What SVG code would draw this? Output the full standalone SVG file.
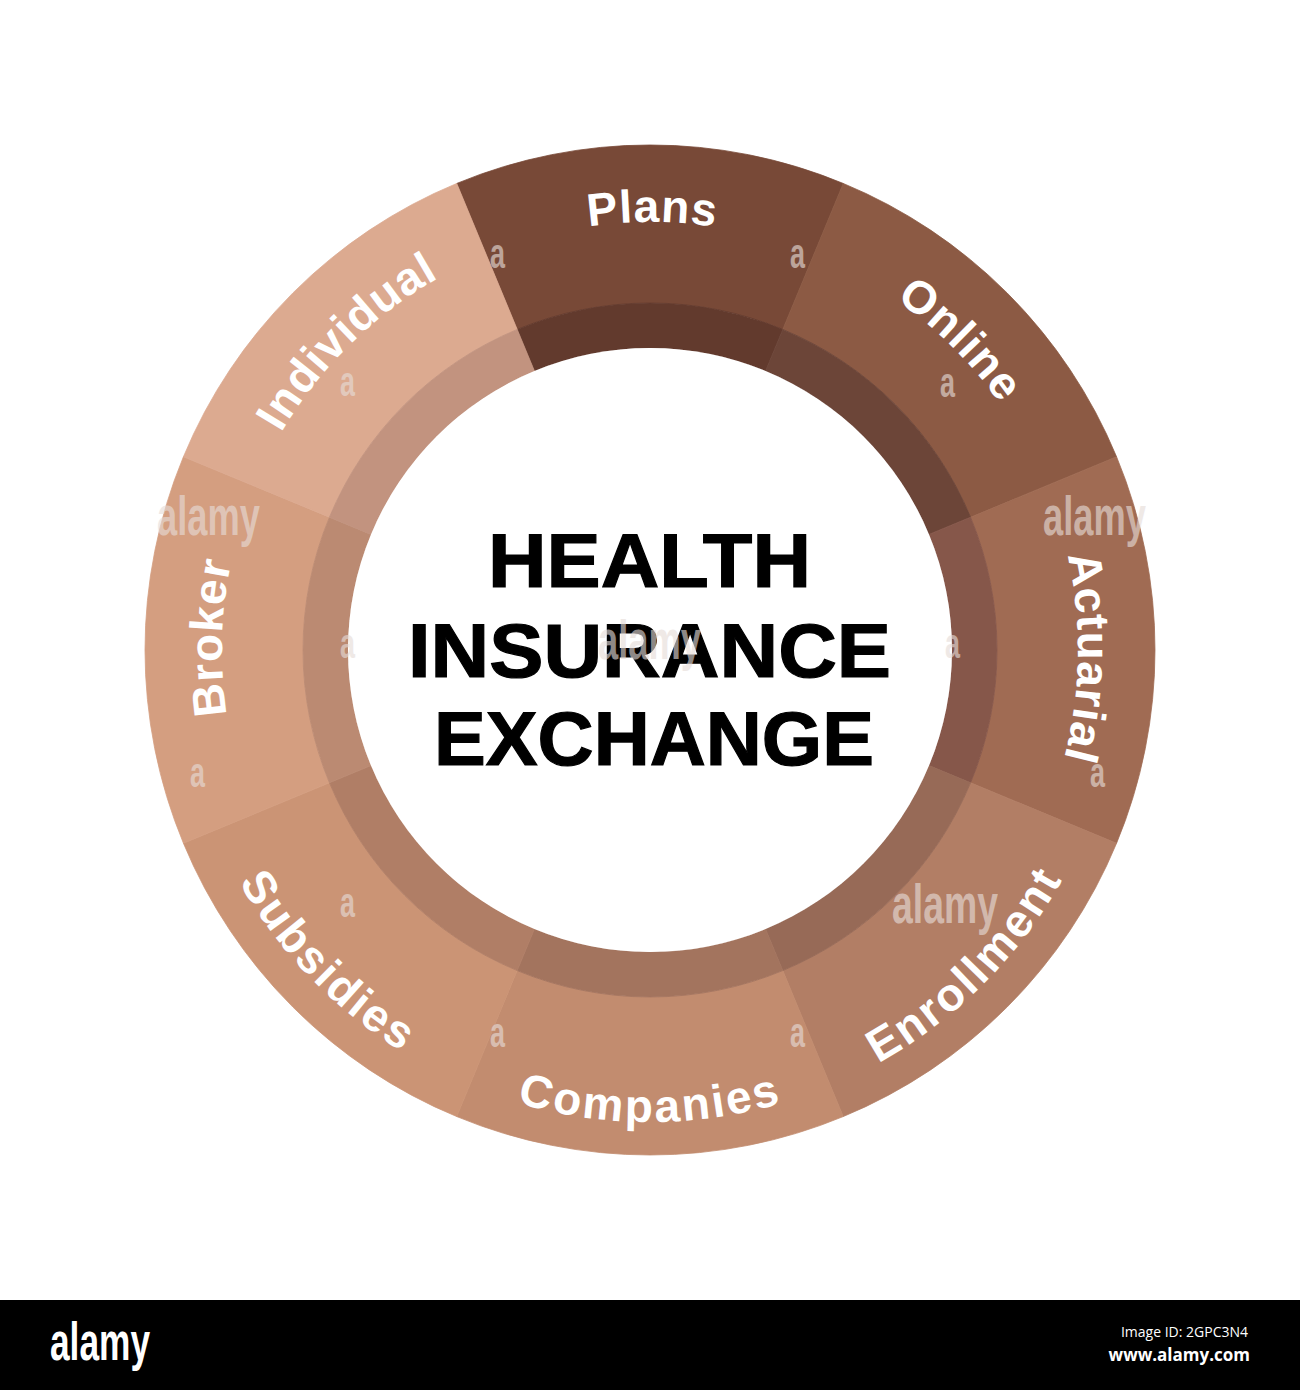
<svg xmlns="http://www.w3.org/2000/svg" xmlns:xlink="http://www.w3.org/1999/xlink" width="1300" height="1390" viewBox="0 0 1300 1390">
<style>
.lbl{font-family:"Liberation Sans",Arial,sans-serif;font-weight:bold;font-size:46px;fill:#ffffff;letter-spacing:1px}
.lbb{letter-spacing:2.5px}
.title{font-family:"Liberation Sans",Arial,sans-serif;font-weight:bold;font-size:76px;fill:#000000;stroke:#000000;stroke-width:1.2px;text-anchor:middle}
.wm{font-family:"Liberation Sans",Arial,sans-serif;font-weight:bold;fill:#e6dcd8;opacity:0.62}
.wa{font-size:42px}
.wb{font-size:56px}
</style>
<defs>
<path id="arcTop" d="M322.133,374.887 A428,428 0 0 1 977.867,374.887"/>
<path id="arcBot" d="M288.427,953.396 A472,472 0 0 0 1011.573,953.396"/>
</defs>
<rect x="0" y="0" width="1300" height="1390" fill="#ffffff"/>

<g id="node-plans">
<path d="M456.745,183.441 A505,505 0 0 1 843.255,183.441 L782.791,329.414 A347,347 0 0 0 517.209,329.414 Z" fill="#784937" stroke="#784937" stroke-width="0.8"/>
<path d="M517.209,329.414 A347,347 0 0 1 782.791,329.414 L765.570,370.988 A302,302 0 0 0 534.430,370.988 Z" fill="#623a2d" stroke="#623a2d" stroke-width="0.8"/>
<text class="lbl"><textPath xlink:href="#arcTop" href="#arcTop" startOffset="50.3%" text-anchor="middle">Plans</textPath></text>
</g>

<g id="node-online">
<path d="M843.255,183.441 A505,505 0 0 1 1116.559,456.745 L970.586,517.209 A347,347 0 0 0 782.791,329.414 Z" fill="#8c5a44" stroke="#8c5a44" stroke-width="0.8"/>
<path d="M782.791,329.414 A347,347 0 0 1 970.586,517.209 L929.012,534.430 A302,302 0 0 0 765.570,370.988 Z" fill="#6c4538" stroke="#6c4538" stroke-width="0.8"/>
<text class="lbl" transform="rotate(45 650 650)"><textPath xlink:href="#arcTop" href="#arcTop" startOffset="50%" text-anchor="middle">Online</textPath></text>
</g>

<g id="node-actuarial">
<path d="M1116.559,456.745 A505,505 0 0 1 1116.559,843.255 L970.586,782.791 A347,347 0 0 0 970.586,517.209 Z" fill="#a06b53" stroke="#a06b53" stroke-width="0.8"/>
<path d="M970.586,517.209 A347,347 0 0 1 970.586,782.791 L929.012,765.570 A302,302 0 0 0 929.012,534.430 Z" fill="#86574a" stroke="#86574a" stroke-width="0.8"/>
<text class="lbl" transform="rotate(90 650 650)"><textPath xlink:href="#arcTop" href="#arcTop" startOffset="51%" text-anchor="middle">Actuarial</textPath></text>
</g>

<g id="node-enrollment">
<path d="M1116.559,843.255 A505,505 0 0 1 843.255,1116.559 L782.791,970.586 A347,347 0 0 0 970.586,782.791 Z" fill="#b27e65" stroke="#b27e65" stroke-width="0.8"/>
<path d="M970.586,782.791 A347,347 0 0 1 782.791,970.586 L765.570,929.012 A302,302 0 0 0 929.012,765.570 Z" fill="#976a57" stroke="#976a57" stroke-width="0.8"/>
<text class="lbl lbb" transform="rotate(-45 650 650)"><textPath xlink:href="#arcBot" href="#arcBot" startOffset="50%" text-anchor="middle">Enrollment</textPath></text>
</g>

<g id="node-companies">
<path d="M843.255,1116.559 A505,505 0 0 1 456.745,1116.559 L517.209,970.586 A347,347 0 0 0 782.791,970.586 Z" fill="#c28c6f" stroke="#c28c6f" stroke-width="0.8"/>
<path d="M782.791,970.586 A347,347 0 0 1 517.209,970.586 L534.430,929.012 A302,302 0 0 0 765.570,929.012 Z" fill="#a3745e" stroke="#a3745e" stroke-width="0.8"/>
<text class="lbl lbb"><textPath xlink:href="#arcBot" href="#arcBot" startOffset="50%" text-anchor="middle">Companies</textPath></text>
</g>

<g id="node-subsidies">
<path d="M456.745,1116.559 A505,505 0 0 1 183.441,843.255 L329.414,782.791 A347,347 0 0 0 517.209,970.586 Z" fill="#cb9475" stroke="#cb9475" stroke-width="0.8"/>
<path d="M517.209,970.586 A347,347 0 0 1 329.414,782.791 L370.988,765.570 A302,302 0 0 0 534.430,929.012 Z" fill="#b07e66" stroke="#b07e66" stroke-width="0.8"/>
<text class="lbl lbb" transform="rotate(45 650 650)"><textPath xlink:href="#arcBot" href="#arcBot" startOffset="49%" text-anchor="middle">Subsidies</textPath></text>
</g>

<g id="node-broker">
<path d="M183.441,843.255 A505,505 0 0 1 183.441,456.745 L329.414,517.209 A347,347 0 0 0 329.414,782.791 Z" fill="#d49e80" stroke="#d49e80" stroke-width="0.8"/>
<path d="M329.414,782.791 A347,347 0 0 1 329.414,517.209 L370.988,534.430 A302,302 0 0 0 370.988,765.570 Z" fill="#bb8a72" stroke="#bb8a72" stroke-width="0.8"/>
<text class="lbl" transform="rotate(-90 650 650)"><textPath xlink:href="#arcTop" href="#arcTop" startOffset="51.6%" text-anchor="middle">Broker</textPath></text>
</g>

<g id="node-individual">
<path d="M183.441,456.745 A505,505 0 0 1 456.745,183.441 L517.209,329.414 A347,347 0 0 0 329.414,517.209 Z" fill="#dcaa90" stroke="#dcaa90" stroke-width="0.8"/>
<path d="M329.414,517.209 A347,347 0 0 1 517.209,329.414 L534.430,370.988 A302,302 0 0 0 370.988,534.430 Z" fill="#c2937f" stroke="#c2937f" stroke-width="0.8"/>
<text class="lbl" transform="rotate(-45 650 650)"><textPath xlink:href="#arcTop" href="#arcTop" startOffset="50.5%" text-anchor="middle">Individual</textPath></text>
</g>

<g id="node-center">
<circle cx="650" cy="650" r="302" fill="#ffffff"/>
<text class="title" x="649.5" y="587" textLength="323" lengthAdjust="spacingAndGlyphs">HEALTH</text>
<text class="title" x="649.5" y="677" textLength="483" lengthAdjust="spacingAndGlyphs">INSURANCE</text>
<text class="title" x="654" y="765" textLength="440" lengthAdjust="spacingAndGlyphs">EXCHANGE</text>
</g>

<g id="connectors"></g>

<g id="watermarks">
<text class="wm wa" x="490" y="268" textLength="15" lengthAdjust="spacingAndGlyphs">a</text>
<text class="wm wa" x="790" y="268" textLength="15" lengthAdjust="spacingAndGlyphs">a</text>
<text class="wm wa" x="340" y="396" textLength="15" lengthAdjust="spacingAndGlyphs">a</text>
<text class="wm wa" x="940" y="397" textLength="15" lengthAdjust="spacingAndGlyphs">a</text>
<text class="wm wb" x="157" y="535" textLength="103" lengthAdjust="spacingAndGlyphs">alamy</text>
<text class="wm wb" x="1043" y="535" textLength="103" lengthAdjust="spacingAndGlyphs">alamy</text>
<text class="wm wa" x="340" y="658" textLength="15" lengthAdjust="spacingAndGlyphs">a</text>
<text class="wm wa" x="945" y="658" textLength="15" lengthAdjust="spacingAndGlyphs">a</text>
<text class="wm wb" x="598" y="659" textLength="103" lengthAdjust="spacingAndGlyphs">alamy</text>
<text class="wm wa" x="190" y="787" textLength="15" lengthAdjust="spacingAndGlyphs">a</text>
<text class="wm wa" x="1090" y="787" textLength="15" lengthAdjust="spacingAndGlyphs">a</text>
<text class="wm wa" x="340" y="917" textLength="15" lengthAdjust="spacingAndGlyphs">a</text>
<text class="wm wb" x="892" y="923" textLength="106" lengthAdjust="spacingAndGlyphs">alamy</text>
<text class="wm wa" x="490" y="1047" textLength="15" lengthAdjust="spacingAndGlyphs">a</text>
<text class="wm wa" x="790" y="1047" textLength="15" lengthAdjust="spacingAndGlyphs">a</text>
</g>

<g id="footer">
<rect x="0" y="1300" width="1300" height="90" fill="#000000"/>
<text x="50" y="1360" font-family="Liberation Sans, Arial, sans-serif" font-weight="bold" font-size="54" fill="#ffffff" textLength="100" lengthAdjust="spacingAndGlyphs">alamy</text>
<text x="1248" y="1337" font-family="Open Sans, DejaVu Sans, sans-serif" font-size="14" fill="#ffffff" text-anchor="end">Image ID: 2GPC3N4</text>
<text x="1250" y="1361" font-family="Open Sans, DejaVu Sans, sans-serif" font-weight="bold" font-size="17" fill="#ffffff" text-anchor="end">www.alamy.com</text>
</g>
</svg>
